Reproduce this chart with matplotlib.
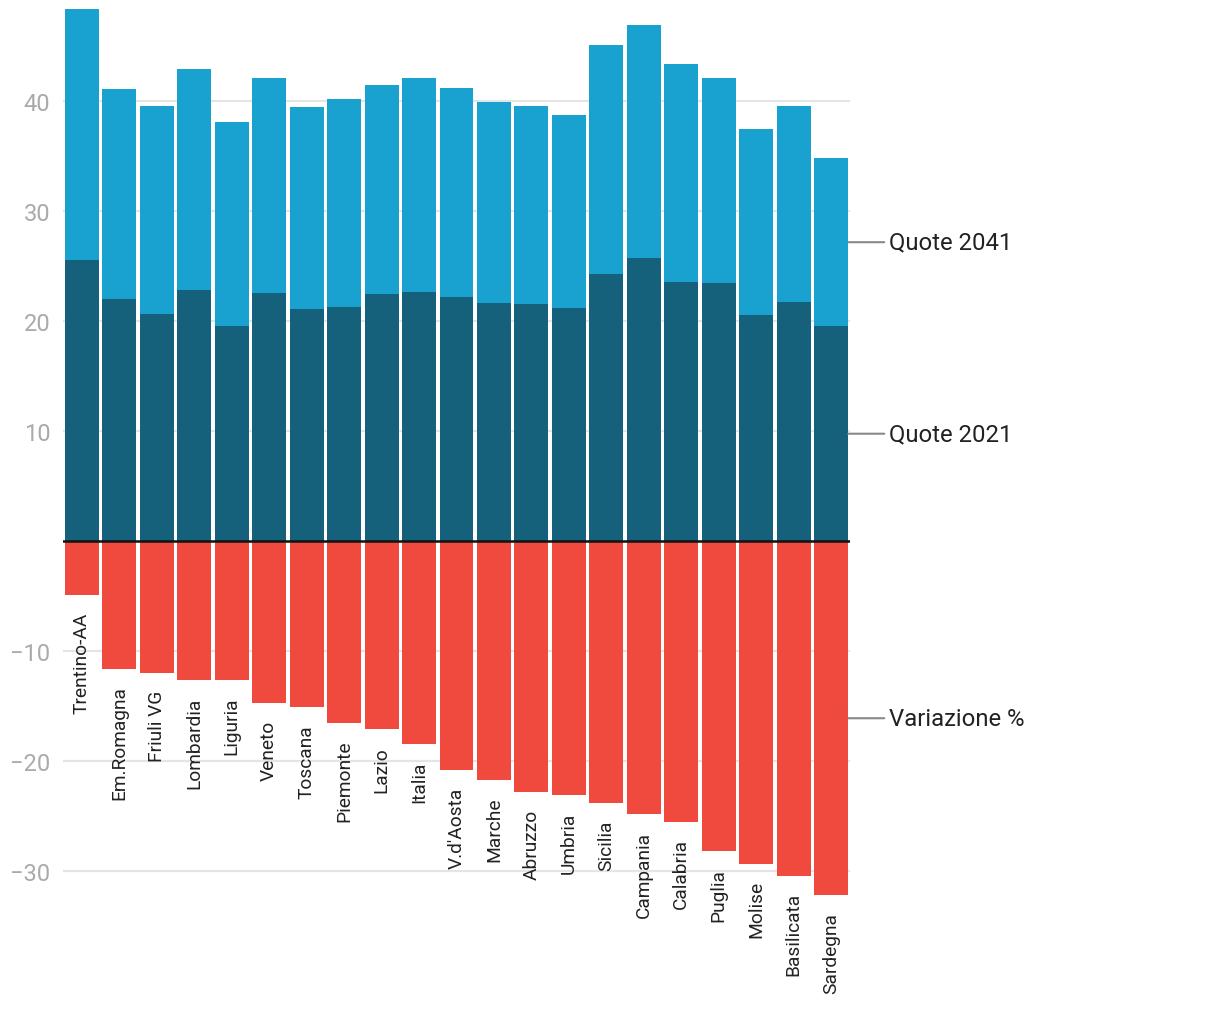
import matplotlib
matplotlib.use("Agg")
import matplotlib.pyplot as plt
import numpy as np

regions = ["Trentino-AA", "Em.Romagna", "Friuli VG", "Lombardia", "Liguria", "Veneto",
           "Toscana", "Piemonte", "Lazio", "Italia", "V.d'Aosta", "Marche", "Abruzzo",
           "Umbria", "Sicilia", "Campania", "Calabria", "Puglia", "Molise", "Basilicata",
           "Sardegna"]
quote_2021 = [25.5, 22.0, 20.6, 22.8, 19.5, 22.5, 21.1, 21.3, 22.4, 22.6, 22.2,
              21.6, 21.5, 21.2, 24.3, 25.7, 23.5, 23.4, 20.5, 21.7, 19.5]
# top of the stacked bar (2021 + 2041 segment)
stack_top = [48.3, 41.1, 39.5, 42.9, 38.1, 42.1, 39.4, 40.2, 41.4, 42.1, 41.2,
             39.9, 39.5, 38.7, 45.1, 46.9, 43.3, 42.1, 37.4, 39.5, 34.8]
variazione = [-4.9, -11.6, -12.0, -12.6, -12.6, -14.7, -15.1, -16.5, -17.1, -18.4, -20.8,
              -21.7, -22.8, -23.1, -23.8, -24.8, -25.5, -28.2, -29.3, -30.4, -32.2]
series_names = ["Quote 2041", "Quote 2021", "Variazione %"]
yticks = [-30, -20, -10, 10, 20, 30, 40]

c_light = "#19a2cf"
c_dark = "#15617c"
c_red = "#f04a3e"

plt.rcParams['font.family'] = ['Roboto', 'DejaVu Sans']

fig = plt.figure(figsize=(12.2, 10.2), dpi=100)
W, H = 1220, 1020
ax_left, ax_right = 63, 850
ax_top, ax_bot = 6, 1001
ax = fig.add_axes([ax_left / W, (H - ax_bot) / H, (ax_right - ax_left) / W, (ax_bot - ax_top) / H])

x = np.arange(len(regions))
q21 = np.array(quote_2021)
q41 = np.array(stack_top) - q21
var = np.array(variazione)
bw = 0.907

ax.bar(x, q21, width=bw, color=c_dark, zorder=2)
ax.bar(x, q41, bottom=q21, width=bw, color=c_light, zorder=2)
ax.bar(x, var, width=bw, color=c_red, zorder=2)

ax.set_xlim(-0.5, len(regions) - 0.5)
ax.set_ylim(-41.7, 48.7)

for t in yticks:
    ax.axhline(t, color="#e5e5e5", lw=1.6, zorder=1)
ax.axhline(0, color="#111111", lw=1.8, zorder=3)

ax.set_yticks(yticks)
ax.set_yticklabels([("\u2212" + str(-t)) if t < 0 else str(t) for t in yticks])
ax.tick_params(axis="y", length=0, pad=9, labelsize=17, labelcolor="#aaaaaa")
ax.set_xticks([])
for s in ax.spines.values():
    s.set_visible(False)

for i, name in enumerate(regions):
    ax.annotate(name, xy=(x[i], var[i]), xytext=(0, -12), textcoords="offset points",
                rotation=90, ha="center", va="top", fontsize=13.8, color="#222222",
                annotation_clip=False)

slot = (ax_right - ax_left) / len(regions)
last = len(regions) - 1
mids = [q21[last] + q41[last] / 2, q21[last] / 2, var[last] / 2]
for name, ym in zip(series_names, mids):
    ax.annotate("", xy=(last + bw / 2, ym), xytext=(last + bw / 2 + 36 / slot, ym),
                arrowprops=dict(arrowstyle="-", color="#888888", lw=1.5,
                                shrinkA=0, shrinkB=0),
                annotation_clip=False)
    ax.text(last + bw / 2 + 41 / slot, ym, name, ha="left", va="center",
            fontsize=17.2, color="#222222", clip_on=False)

fig.savefig("out.png", dpi=100)
